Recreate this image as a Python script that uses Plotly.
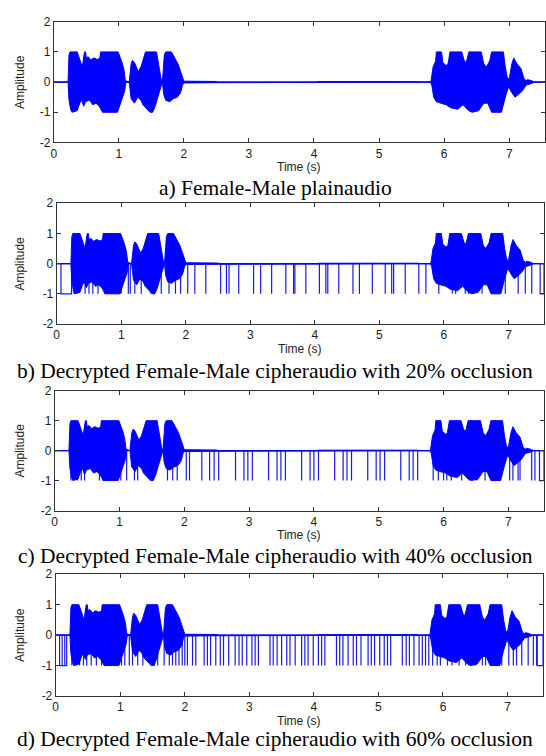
import plotly.graph_objects as go

W, H = 546, 756
X_MAX = 7.55

# ---- speech envelope (shared by all four panels) ----
upper_t = [0, 0.22, 0.235, 0.25, 0.36, 0.385, 0.42, 0.44, 0.465, 0.475, 0.49, 0.5, 0.53, 0.57, 0.62, 0.67,
           0.71, 0.72, 0.99, 1.02, 1.05, 1.08, 1.1, 1.16, 1.19, 1.21, 1.24, 1.27, 1.3, 1.34, 1.37, 1.41,
           1.58, 1.6, 1.63, 1.65, 1.67, 1.68, 1.7, 1.72, 1.81, 1.86, 1.91, 1.95, 1.98, 2.0, 2.5, 2.52,
           4.05, 4.06, 5.6, 5.62, 5.78, 5.8, 5.83, 5.87, 5.88, 5.96, 5.98, 6.03, 6.06, 6.09, 6.27, 6.31,
           6.34, 6.38, 6.57, 6.61, 6.65, 6.7, 6.73, 6.91, 6.94, 6.97, 7.0, 7.04, 7.07, 7.12, 7.18, 7.2,
           7.23, 7.26, 7.28, 7.34, 7.39, 7.55]
upper_v = [0, 0, 0.9, 1.0, 1.0, 0.85, 0.6, 0.5, 0.9, 1.0, 1.0, 0.8, 0.84, 0.74, 0.8, 0.75,
           0.8, 1.0, 1.0, 0.85, 0.65, 0.4, 0.05, 0.0, 0.6, 0.72, 0.65, 0.5, 0.35, 0.5, 0.75, 1.0,
           1.0, 0.7, 0.35, 0.1, 0.0, 0.3, 0.9, 1.0, 1.0, 0.8, 0.6, 0.35, 0.1, 0.03, 0.02, 0.0,
           0.0, 0.015, 0.015, 0.0, 0.0, 0.05, 0.5, 0.7, 1.0, 1.0, 0.65, 0.55, 0.6, 1.0, 1.0, 0.7,
           0.65, 1.0, 1.0, 0.6, 0.5, 0.7, 1.0, 1.0, 0.5, 0.15, 0.1, 0.6, 0.8, 0.6, 0.45, 0.3,
           0.1, 0.05, 0.08, 0.05, 0.0, 0.0]
lower_t = [0, 0.22, 0.235, 0.26, 0.28, 0.36, 0.4, 0.43, 0.46, 0.49, 0.55, 0.6, 0.65, 0.7, 0.75, 0.98,
           1.02, 1.05, 1.09, 1.11, 1.16, 1.19, 1.24, 1.29, 1.34, 1.37, 1.43, 1.48, 1.52, 1.56, 1.6,
           1.64, 1.67, 1.69, 1.72, 1.78, 1.84, 1.9, 1.95, 1.98, 2.0, 2.5, 2.52, 4.05, 4.06, 5.6, 5.62,
           5.79, 5.81, 5.84, 5.88, 5.95, 6.03, 6.1, 6.21, 6.29, 6.38, 6.43, 6.53, 6.61, 6.67, 6.73,
           6.88, 6.94, 6.99, 7.04, 7.09, 7.14, 7.2, 7.26, 7.34, 7.39, 7.55]
lower_v = [0, 0, -0.6, -0.9, -1.0, -0.95, -0.7, -0.6, -0.8, -0.65, -0.6, -0.75, -0.7, -0.8, -1.0, -1.0,
           -0.8, -0.55, -0.3, 0.0, 0.0, -0.55, -0.7, -0.5, -0.6, -0.75, -0.9, -1.0, -1.0, -0.8, -0.5,
           -0.25, 0.0, -0.4, -0.6, -0.65, -0.55, -0.5, -0.35, -0.1, -0.03, -0.02, 0.0, 0.0, -0.015, -0.015, 0.0,
           0.0, -0.1, -0.5, -0.65, -0.7, -0.75, -0.85, -0.9, -0.75, -0.95, -1.0, -0.95, -0.7, -0.7, -1.0,
           -1.0, -0.5, -0.15, -0.35, -0.5, -0.4, -0.3, -0.1, -0.05, 0.0, 0.0]

# ---- occlusion spikes (to -1) ----
spikes_b = [0.27, 0.44, 0.5, 0.56, 0.64, 0.74, 0.87, 1.0, 1.11, 1.14, 1.21, 1.31, 1.46, 1.62, 1.74, 1.84, 1.92,
            2.03, 2.14, 2.31, 2.54, 2.63, 2.67, 2.82, 3.05, 3.16, 3.33, 3.55, 3.67, 3.69, 3.86, 4.07, 4.17,
            4.2, 4.37, 4.59, 4.69, 4.89, 5.09, 5.19, 5.22, 5.4, 5.61, 5.72,
            5.92, 6.13, 6.18, 6.33, 6.38, 6.59, 6.74, 6.95, 7.15, 7.26, 7.36]
wide_b_start = [0.066, 7.49]
wide_b_end = [0.23, 7.55]

spikes_c = [0.25, 0.35, 0.41, 0.46, 0.69, 0.74, 0.87, 0.92, 1.02, 1.11, 1.23, 1.28, 1.51, 1.74, 1.82, 1.89,
            2.03, 2.08, 2.27, 2.39, 2.46, 2.53, 2.79, 2.92, 2.98, 3.05, 3.3, 3.43, 3.49, 3.56, 3.81, 3.94,
            4.0, 4.07, 4.32, 4.45, 4.51, 4.58, 4.83, 4.96, 5.02, 5.09, 5.34, 5.47, 5.53, 5.6,
            5.84, 5.92, 6.0, 6.05, 6.12, 6.28, 6.4, 6.51, 6.64, 6.84, 7.02, 7.07, 7.15, 7.18, 7.36, 7.41]
wide_c_start = [7.48]
wide_c_end = [7.55]

spikes_d = [0.1, 0.14, 0.25, 0.32, 0.37, 0.43, 0.48, 0.55, 0.63, 0.71, 0.76, 0.84, 0.94, 1.02, 1.07, 1.14,
            1.19, 1.27, 1.35, 1.48, 1.53, 1.58, 1.68, 1.76, 1.81, 1.86, 1.91, 1.96, 2.0, 2.04, 2.12, 2.17,
            2.3, 2.35, 2.4, 2.48, 2.55, 2.6, 2.68, 2.78, 2.84, 2.89, 2.96, 3.04, 3.09, 3.14, 3.32, 3.37,
            3.43, 3.5, 3.58, 3.63, 3.71, 3.81, 3.86, 3.91, 3.99, 4.07, 4.12, 4.17, 4.35, 4.4, 4.45, 4.53,
            4.61, 4.66, 4.73, 4.84, 4.89, 4.94, 5.02, 5.09, 5.14, 5.19, 5.37, 5.43, 5.48, 5.55, 5.63,
            5.68, 5.73, 5.78, 5.84, 5.91, 5.96, 6.07, 6.14, 6.25, 6.35, 6.4, 6.5, 6.61, 6.66, 6.76,
            6.86, 6.91, 7.02, 7.09, 7.14, 7.22, 7.32, 7.4, 7.45]
wide_d_start = [0.06, 7.46]
wide_d_end = [0.17, 7.55]

x_ticks = [0, 1, 2, 3, 4, 5, 6, 7]
y_ticks = [-2, -1, 0, 1, 2]
y_tick_text = ["-2", "-1", "0", "1", "2"]

captions = [
    "a) Female-Male plainaudio",
    "b) Decrypted Female-Male cipheraudio with 20% occlusion",
    "c) Decrypted Female-Male cipheraudio with 40% occlusion",
    "d) Decrypted Female-Male cipheraudio with 60% occlusion",
]

# panel boxes in pixels: left, right, top, bottom
panels = [(51, 545, 15, 138), (54, 544, 200, 323), (52, 544, 391, 513), (53, 543, 578, 702)]
caption_y = [184, 371, 559, 746]

spike_sets = [([], [], []),
              (spikes_b, wide_b_start, wide_b_end),
              (spikes_c, wide_c_start, wide_c_end),
              (spikes_d, wide_d_start, wide_d_end)]

BLUE = "#0000ff"
SPIKE = "#1a1ae6"
fig = go.Figure()
poly_x = upper_t + lower_t[::-1]
poly_y = upper_v + lower_v[::-1]

annotations = []
layout_axes = {}
for i, (l, r, t, b) in enumerate(panels):
    n = "" if i == 0 else str(i + 1)
    xa, ya = "x" + n, "y" + n
    sp, ws, we = spike_sets[i]
    sx, sy = [], []
    for s in sp:
        sx += [s, s, None]
        sy += [0, -1, None]
    for s, e in zip(ws, we):
        sx += [s, s, e, e, None]
        sy += [0, -1, -1, 0, None]
    if sx:
        fig.add_trace(go.Scatter(x=sx, y=sy, mode="lines", line=dict(color=SPIKE, width=1.2),
                                 xaxis=xa, yaxis=ya, showlegend=False, hoverinfo="skip"))
    fig.add_trace(go.Scatter(x=poly_x, y=poly_y, mode="lines", fill="toself", fillcolor=BLUE,
                             line=dict(color=BLUE, width=1), xaxis=xa, yaxis=ya,
                             showlegend=False, hoverinfo="skip"))
    fig.add_trace(go.Scatter(x=[0, X_MAX], y=[0, 0], mode="lines", line=dict(color=BLUE, width=1.2),
                             xaxis=xa, yaxis=ya, showlegend=False, hoverinfo="skip"))

    common = dict(showline=True, linecolor="#333333", linewidth=1, mirror="ticks", ticks="inside",
                  ticklen=4, tickcolor="#333333", showgrid=False, zeroline=False,
                  tickfont=dict(family="Liberation Sans, Arial", size=12, color="#222222"))
    layout_axes["xaxis" + n] = dict(domain=[l / W, r / W], range=[0, X_MAX], tickvals=x_ticks,
                                    anchor=ya, **common)
    layout_axes["yaxis" + n] = dict(domain=[1 - b / H, 1 - t / H], range=[-2, 2], tickvals=y_ticks,
                                    ticktext=y_tick_text, anchor=xa, **common)
    annotations.append(dict(text="Time (s)", x=(l + r) / 2 / W, y=1 - (b + 25) / H, xref="paper",
                            yref="paper", showarrow=False, xanchor="center", yanchor="middle",
                            font=dict(family="Liberation Sans, Arial", size=12, color="#222222")))
    annotations.append(dict(text="Amplitude", x=17 / W, y=1 - (t + b) / 2 / H, xref="paper",
                            yref="paper", showarrow=False, textangle=-90, xanchor="center",
                            yanchor="middle",
                            font=dict(family="Liberation Sans, Arial", size=12, color="#222222")))
    annotations.append(dict(text=captions[i], x=274 / W, y=1 - caption_y[i] / H, xref="paper",
                            yref="paper", showarrow=False, xanchor="center", yanchor="middle",
                            font=dict(family="Liberation Serif, Times New Roman", size=21.5,
                                      color="#000000")))

fig.update_layout(width=W, height=H, margin=dict(l=0, r=0, t=0, b=0),
                  paper_bgcolor="white", plot_bgcolor="white", annotations=annotations,
                  showlegend=False, hovermode=False, **layout_axes)
fig.write_html("out.html", config={"displayModeBar": False, "staticPlot": True},
               post_script="document.body.style.margin='0';document.body.style.overflow='hidden';")
